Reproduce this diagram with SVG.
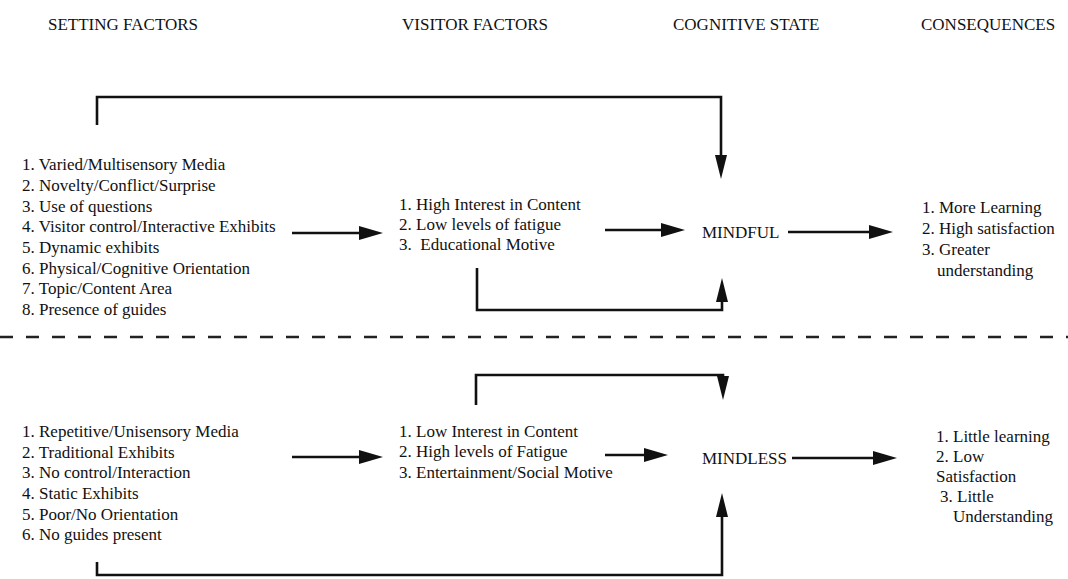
<svg xmlns="http://www.w3.org/2000/svg" width="1068" height="579" viewBox="0 0 1068 579">
<style>
text{font-family:"Liberation Serif","Times New Roman",serif;font-size:17px;fill:#111;}
.pre{white-space:pre;}
.conn{fill:none;stroke:#111;stroke-width:2.6;}
.dash{stroke:#222;stroke-width:2.5;stroke-dasharray:13 13;}
</style>
<defs>
<marker id="ah" markerUnits="userSpaceOnUse" markerWidth="26" markerHeight="16" refX="14" refY="7" orient="auto">
<path d="M0,0 L24,7 L0,14 Z" fill="#111"/>
</marker>
<marker id="av" markerUnits="userSpaceOnUse" markerWidth="26" markerHeight="14" refX="14" refY="6" orient="auto">
<path d="M0,0 L24,6 L0,12 Z" fill="#111"/>
</marker>
</defs>
<rect width="1068" height="579" fill="#fff"/>
<g id="headers">
<text x="48" y="30">SETTING FACTORS</text>
<text x="402" y="30">VISITOR FACTORS</text>
<text x="673" y="30">COGNITIVE STATE</text>
<text x="921" y="30">CONSEQUENCES</text>
</g>
<g id="setting-mindful">
<text x="22" y="170">1. Varied/Multisensory Media</text>
<text x="22" y="191">2. Novelty/Conflict/Surprise</text>
<text x="22" y="212">3. Use of questions</text>
<text x="22" y="232">4. Visitor control/Interactive Exhibits</text>
<text x="22" y="253">5. Dynamic exhibits</text>
<text x="22" y="274">6. Physical/Cognitive Orientation</text>
<text x="22" y="294">7. Topic/Content Area</text>
<text x="22" y="315">8. Presence of guides</text>
</g>
<g id="visitor-mindful">
<text x="399" y="210">1. High Interest in Content</text>
<text x="399" y="230">2. Low levels of fatigue</text>
<text x="399" y="250" class="pre">3.  Educational Motive</text>
</g>
<g id="mindful"><text x="702" y="238">MINDFUL</text></g>
<g id="consequences-mindful">
<text x="922" y="213">1. More Learning</text>
<text x="922" y="234">2. High satisfaction</text>
<text x="922" y="255">3. Greater</text>
<text x="937" y="276">understanding</text>
</g>
<g id="setting-mindless">
<text x="22" y="437">1. Repetitive/Unisensory Media</text>
<text x="22" y="458">2. Traditional Exhibits</text>
<text x="22" y="478">3. No control/Interaction</text>
<text x="22" y="499">4. Static Exhibits</text>
<text x="22" y="520">5. Poor/No Orientation</text>
<text x="22" y="540">6. No guides present</text>
</g>
<g id="visitor-mindless">
<text x="399" y="437">1. Low Interest in Content</text>
<text x="399" y="457">2. High levels of Fatigue</text>
<text x="399" y="478">3. Entertainment/Social Motive</text>
</g>
<g id="mindless"><text x="702" y="464">MINDLESS</text></g>
<g id="consequences-mindless">
<text x="936" y="442">1. Little learning</text>
<text x="936" y="462">2. Low</text>
<text x="936" y="482">Satisfaction</text>
<text x="940" y="502">3. Little</text>
<text x="953" y="522">Understanding</text>
</g>
<g id="connectors">
<path class="conn" d="M97,125 V97 H721 V169" marker-end="url(#av)"/>
<path class="conn" d="M477,268 V310 H722 V288" marker-end="url(#av)"/>
<path class="conn" d="M292,233 H373" marker-end="url(#ah)"/>
<path class="conn" d="M605,230 H675" marker-end="url(#ah)"/>
<path class="conn" d="M788,232 H883" marker-end="url(#ah)"/>
<line class="dash" x1="0" y1="337" x2="1068" y2="337"/>
<path class="conn" d="M476,405 V375 H723 V390" marker-end="url(#av)"/>
<path class="conn" d="M97,562 V575 H722 V503" marker-end="url(#av)"/>
<path class="conn" d="M292,457 H373" marker-end="url(#ah)"/>
<path class="conn" d="M605,455 H658" marker-end="url(#ah)"/>
<path class="conn" d="M792,458 H887" marker-end="url(#ah)"/>
</g>
</svg>
